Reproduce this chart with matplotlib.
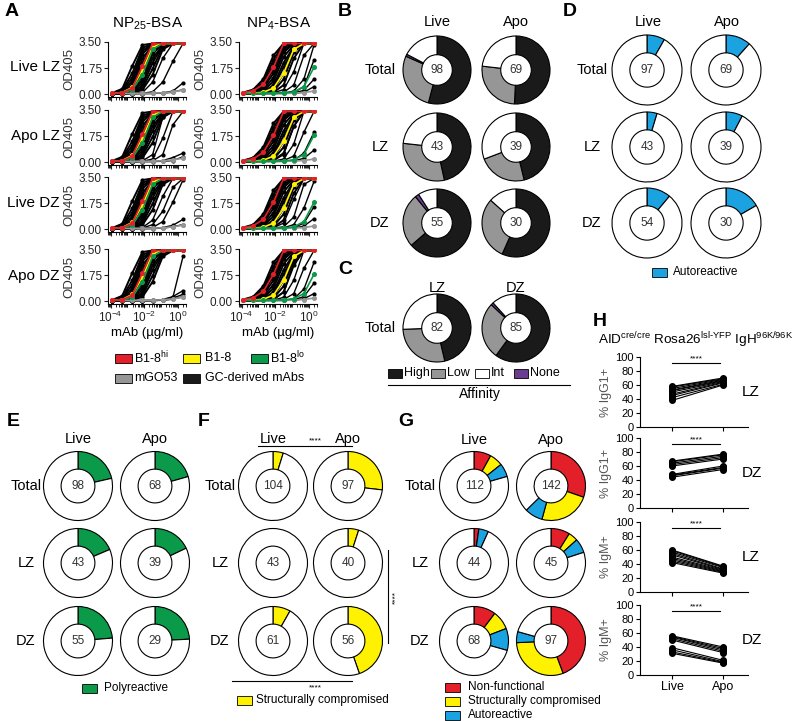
import matplotlib
matplotlib.use("Agg")
import matplotlib.pyplot as plt
import matplotlib.ticker as mticker
import numpy as np
from matplotlib.patches import Rectangle

# ── Style ──────────────────────────────────────────────────────────────────────
plt.rcParams.update({
    "font.family": "Liberation Sans",
    "mathtext.fontset": "custom",
    "mathtext.rm": "Liberation Sans",
    "mathtext.it": "Liberation Sans:italic",
    "mathtext.bf": "Liberation Sans:bold",
    "axes.linewidth": 0.8,
    "xtick.major.width": 0.8,
    "ytick.major.width": 0.8,
    "xtick.major.size": 3,
    "ytick.major.size": 3,
    "xtick.minor.size": 1.8,
})

W, H = 800, 721
RED, YELLOW, GREEN, BLUE = "#e3202a", "#fff200", "#0b9a4a", "#1aa3e0"
BLACK, GRAY, PURPLE = "#1a1a1a", "#969696", "#6a3d8f"

# ── Panel A data: OD405 at each mAb dilution (µg/ml) ───────────────────────────
CONC = [1.22e-4, 4.88e-4, 1.95e-3, 7.81e-3, 3.125e-2, 0.125, 0.5, 2.0]

NP25_RED = [0.05, 0.09, 0.4, 1.9, 3.4, 3.4, 3.4, 3.4]
NP25_YELLOW = [0.05, 0.1, 0.45, 1.6, 3.2, 3.4, 3.4, 3.4]
NP25_GREEN = [0.05, 0.07, 0.28, 1.3, 3.0, 3.4, 3.4, 3.4]
NP25_GRAY = [0.05, 0.05, 0.05, 0.05, 0.06, 0.08, 0.15, 0.25]

NP4_RED = [0.1, 0.22, 0.65, 1.8, 3.4, 3.4, 3.4, 3.4]
NP4_YELLOW = [0.05, 0.06, 0.12, 0.4, 1.4, 3.0, 3.4, 3.4]
NP4_GREEN = [0.05, 0.05, 0.05, 0.05, 0.06, 0.15, 0.5, 1.8]
NP4_GRAY = [0.05, 0.05, 0.05, 0.05, 0.05, 0.06, 0.1, 0.2]

NP25_MASS = [
    [0.07, 0.35, 1.9, 3.3, 3.4, 3.4, 3.4, 3.4],
    [0.06, 0.25, 1.4, 3.1, 3.4, 3.4, 3.4, 3.4],
    [0.05, 0.2, 1.1, 2.9, 3.4, 3.4, 3.4, 3.4],
    [0.05, 0.15, 0.85, 2.7, 3.4, 3.4, 3.4, 3.4],
    [0.05, 0.12, 0.65, 2.4, 3.3, 3.4, 3.4, 3.4],
    [0.04, 0.1, 0.5, 2.1, 3.3, 3.4, 3.4, 3.4],
    [0.04, 0.08, 0.4, 1.8, 3.2, 3.4, 3.4, 3.4],
    [0.04, 0.07, 0.32, 1.5, 3.1, 3.4, 3.4, 3.4],
    [0.03, 0.06, 0.25, 1.2, 2.9, 3.4, 3.4, 3.4],
    [0.03, 0.05, 0.2, 0.95, 2.7, 3.4, 3.4, 3.4],
    [0.03, 0.05, 0.15, 0.75, 2.4, 3.3, 3.4, 3.4],
    [0.03, 0.04, 0.12, 0.55, 2.1, 3.3, 3.4, 3.4],
    [0.03, 0.04, 0.09, 0.4, 1.7, 3.2, 3.4, 3.4],
    [0.03, 0.04, 0.07, 0.28, 1.3, 3.0, 3.4, 3.4],
]
NP25_EXTRA = [
    [  # Live LZ
        [0.03, 0.03, 0.04, 0.1, 0.8, 2.4, 3.4, 3.4],
        [0.03, 0.03, 0.03, 0.05, 0.15, 0.8, 2.2, 3.4],
        [0.03, 0.03, 0.03, 0.03, 0.04, 0.08, 0.2, 0.75],
        [0.03, 0.03, 0.03, 0.03, 0.04, 0.06, 0.12, 0.3],
    ],
    [  # Apo LZ
        [0.03, 0.03, 0.04, 0.08, 0.5, 3.0, 3.4, 3.4],
        [0.03, 0.03, 0.03, 0.05, 0.2, 1.6, 3.4, 3.4],
        [0.03, 0.03, 0.03, 0.04, 0.08, 0.5, 2.5, 3.4],
        [0.03, 0.03, 0.03, 0.03, 0.04, 0.1, 0.3, 0.6],
        [0.03, 0.03, 0.03, 0.03, 0.03, 0.05, 0.1, 0.35],
    ],
    [  # Live DZ
        [0.03, 0.03, 0.04, 0.1, 0.6, 2.2, 3.4, 3.4],
        [0.03, 0.03, 0.03, 0.06, 0.3, 1.2, 2.8, 3.4],
        [0.03, 0.03, 0.03, 0.04, 0.1, 0.5, 1.8, 3.3],
        [0.03, 0.03, 0.03, 0.03, 0.04, 0.1, 0.25, 0.65],
        [0.03, 0.03, 0.03, 0.03, 0.03, 0.06, 0.15, 0.3],
    ],
    [  # Apo DZ
        [0.03, 0.03, 0.03, 0.03, 0.04, 0.08, 0.25, 3.0],
        [0.03, 0.03, 0.03, 0.03, 0.04, 0.1, 0.3, 0.7],
        [0.03, 0.03, 0.03, 0.03, 0.03, 0.06, 0.2, 0.45],
        [0.03, 0.03, 0.03, 0.03, 0.03, 0.05, 0.12, 0.3],
    ],
]

NP4_MASS = [
    [0.1, 0.3, 1.0, 2.6, 3.4, 3.4, 3.4, 3.4],
    [0.08, 0.25, 0.8, 2.3, 3.4, 3.4, 3.4, 3.4],
    [0.07, 0.2, 0.65, 2.0, 3.3, 3.4, 3.4, 3.4],
    [0.06, 0.15, 0.5, 1.7, 3.2, 3.4, 3.4, 3.4],
    [0.05, 0.12, 0.4, 1.4, 3.0, 3.4, 3.4, 3.4],
    [0.05, 0.1, 0.3, 1.1, 2.8, 3.4, 3.4, 3.4],
    [0.05, 0.08, 0.22, 0.85, 2.5, 3.3, 3.4, 3.4],
    [0.04, 0.07, 0.15, 0.6, 2.1, 3.2, 3.4, 3.4],
    [0.04, 0.06, 0.12, 0.45, 1.8, 3.1, 3.4, 3.4],
    [0.04, 0.05, 0.1, 0.3, 1.4, 3.0, 3.4, 3.4],
    [0.04, 0.05, 0.08, 0.2, 1.0, 2.8, 3.4, 3.4],
    [0.04, 0.05, 0.06, 0.12, 0.6, 2.4, 3.4, 3.4],
]
NP4_EXTRA = [
    [
        [0.04, 0.04, 0.05, 0.08, 0.3, 1.5, 3.4, 3.4],
        [0.04, 0.04, 0.04, 0.05, 0.12, 0.6, 2.6, 3.4],
        [0.04, 0.04, 0.04, 0.04, 0.06, 0.2, 1.0, 3.3],
        [0.04, 0.04, 0.04, 0.04, 0.05, 0.1, 0.5, 2.3],
        [0.04, 0.04, 0.04, 0.04, 0.04, 0.07, 0.25, 1.0],
        [0.04, 0.04, 0.04, 0.04, 0.04, 0.05, 0.12, 0.5],
    ],
    [
        [0.04, 0.04, 0.05, 0.1, 0.5, 2.4, 3.4, 3.4],
        [0.04, 0.04, 0.04, 0.06, 0.2, 1.2, 3.4, 3.4],
        [0.04, 0.04, 0.04, 0.05, 0.1, 0.4, 2.0, 3.4],
        [0.04, 0.04, 0.04, 0.04, 0.05, 0.12, 0.6, 2.0],
        [0.04, 0.04, 0.04, 0.04, 0.04, 0.07, 0.25, 0.8],
    ],
    [
        [0.04, 0.04, 0.05, 0.09, 0.4, 2.0, 3.4, 3.4],
        [0.04, 0.04, 0.04, 0.06, 0.15, 0.8, 3.0, 3.4],
        [0.04, 0.04, 0.04, 0.04, 0.08, 0.3, 1.4, 3.2],
        [0.04, 0.04, 0.04, 0.04, 0.05, 0.1, 0.4, 1.5],
        [0.04, 0.04, 0.04, 0.04, 0.04, 0.06, 0.2, 0.7],
    ],
    [
        [0.04, 0.04, 0.05, 0.1, 0.6, 2.6, 3.4, 3.4],
        [0.04, 0.04, 0.04, 0.06, 0.25, 1.4, 3.4, 3.4],
        [0.04, 0.04, 0.04, 0.05, 0.1, 0.5, 2.2, 3.4],
        [0.04, 0.04, 0.04, 0.04, 0.06, 0.15, 0.8, 2.6],
        [0.04, 0.04, 0.04, 0.04, 0.04, 0.08, 0.3, 1.2],
        [0.04, 0.04, 0.04, 0.04, 0.04, 0.05, 0.15, 0.5],
    ],
]
A_ROWS = ["Live LZ", "Apo LZ", "Live DZ", "Apo DZ"]

# ── Panels B/C: affinity counts [High, Low, None, Int] (rows Total, LZ, DZ) ───
AFF_COLORS = [BLACK, GRAY, PURPLE, "white"]
B_LIVE = [[53, 27, 1, 17], [20, 13, 0, 10], [35, 14, 1, 5]]
B_APO = [[35, 18, 0, 16], [18, 9, 0, 12], [17, 9, 0, 4]]
C_LZ = [38, 23, 0, 21]
C_DZ = [51, 23, 1, 10]

# ── Panels D/E/F: total mAbs and positive mAbs (rows Total, LZ, DZ) ──────────
D_LIVE_N, D_LIVE_POS = [97, 43, 54], [8, 2, 6]
D_APO_N, D_APO_POS = [69, 39, 30], [8, 3, 5]
E_LIVE_N, E_LIVE_POS = [98, 43, 55], [21, 8, 13]
E_APO_N, E_APO_POS = [68, 39, 29], [14, 7, 7]
F_LIVE_N, F_LIVE_POS = [104, 43, 61], [5, 0, 5]
F_APO_N, F_APO_POS = [97, 40, 56], [26, 2, 25]

# ── Panel G: non-functional / structurally compromised / autoreactive ────────
G_LIVE_N = [112, 44, 68]
G_LIVE_NONFUNC, G_LIVE_STRUCT, G_LIVE_AUTO = [9, 1, 7], [7, 0, 6], [7, 2, 7]
G_APO_N = [142, 45, 97]
G_APO_NONFUNC, G_APO_STRUCT, G_APO_AUTO = [43, 4, 43], [34, 2, 29], [12, 3, 5]

# ── Panel H: paired % per mouse ─────────────────────────────────────────────
H_YLABELS = ["% IgG1+", "% IgG1+", "% IgM+", "% IgM+"]
H_ZONES = ["LZ", "DZ", "LZ", "DZ"]
H_LIVE = [
    [38, 42, 45, 47, 50, 52, 53, 55, 57, 58],
    [44, 46, 47, 48, 60, 62, 64, 66, 67],
    [42, 44, 46, 48, 50, 53, 55, 57, 59, 60],
    [31, 33, 36, 39, 50, 52, 54, 55, 56],
]
H_APO = [
    [60, 61, 63, 64, 65, 66, 67, 68, 69, 70],
    [55, 57, 58, 60, 70, 72, 74, 76, 77],
    [27, 28, 29, 30, 31, 32, 33, 35, 36, 37],
    [17, 18, 19, 21, 32, 34, 36, 38, 40],
]

fig = plt.figure(figsize=(8, 7.21), dpi=100)


def px_axes(x0, y0, w, h, **kw):
    return fig.add_axes([x0 / W, 1 - (y0 + h) / H, w / W, h / H], **kw)


ov = px_axes(0, 0, W, H, zorder=10)
ov.set_xlim(0, W)
ov.set_ylim(H, 0)
ov.axis("off")
ov.patch.set_visible(False)


def txt(x, y, s, size=10.5, **kw):
    kw.setdefault("ha", "center")
    kw.setdefault("va", "center")
    ov.text(x, y, s, fontsize=size, **kw)


def box(x, y, color, w=15, h=9):
    ov.add_patch(Rectangle((x, y - h / 2), w, h, facecolor=color,
                           edgecolor="black", lw=0.6))


def donut(cx, cy, r, values, colors, hole):
    pad = 1.06
    ax = px_axes(cx - r * pad, cy - r * pad, 2 * r * pad, 2 * r * pad)
    keep = [(v, c) for v, c in zip(values, colors) if v > 0]
    ax.pie([v for v, _ in keep], colors=[c for _, c in keep], startangle=90,
           counterclock=False, radius=1,
           wedgeprops=dict(width=1 - hole, edgecolor="black", linewidth=0.8))
    ax.text(0, 0, str(sum(values)), ha="center", va="center", fontsize=8.5,
            color="#333333")
    ax.set_xlim(-pad, pad)
    ax.set_ylim(-pad, pad)
    ax.set_aspect("equal")
    ax.axis("off")


# ── A ────────────────────────────────────────────────────────────────────────
A_TOPS = [42, 110, 177, 249]
cols = [(108, NP25_MASS, NP25_EXTRA, [NP25_GRAY, NP25_YELLOW, NP25_GREEN, NP25_RED]),
        (239, NP4_MASS, NP4_EXTRA, [NP4_GRAY, NP4_YELLOW, NP4_GREEN, NP4_RED])]
for x0, mass, extra, ctrls in cols:
    for i, top in enumerate(A_TOPS):
        ax = px_axes(x0, top, 78, 55)
        for ys in mass:
            ax.plot(CONC, ys, color="black", lw=1.4, marker="o", ms=2)
        for ys in extra[i]:
            ax.plot(CONC, ys, color="black", lw=1.0, marker="o", ms=2)
        for ys, c in zip(ctrls, [GRAY, YELLOW, GREEN, RED]):
            ax.plot(CONC, ys, color=c, lw=1.2, marker="o", ms=2.6)
        ax.set_xscale("log")
        ax.set_xlim(7e-5, 3)
        ax.set_ylim(-0.2, 3.5)
        ax.set_yticks([0, 1.75, 3.5])
        ax.yaxis.set_major_formatter(mticker.FormatStrFormatter("%.2f"))
        ax.xaxis.set_major_locator(mticker.FixedLocator([1e-4, 1e-2, 1]))
        ax.xaxis.set_minor_locator(mticker.LogLocator(base=10, subs="all", numticks=20))
        ax.xaxis.set_minor_formatter(mticker.NullFormatter())
        ax.tick_params(labelsize=8.5, colors="#222222", pad=1.5)
        ax.set_ylabel("OD405", fontsize=9.5, color="#333333", labelpad=2)
        for s in ("top", "right"):
            ax.spines[s].set_visible(False)
        if i < 3:
            ax.set_xticklabels([])
        else:
            ax.set_xlabel("mAb (µg/ml)", fontsize=9.5, labelpad=1)

txt(5, 12, "A", size=14, weight="bold", ha="left")
txt(148, 24, "NP$_{25}$-BSA", size=11)
txt(279, 24, "NP$_4$-BSA", size=11)
for lab, y in zip(A_ROWS, [67, 136, 203, 276]):
    txt(60, y, lab, size=11, ha="right")

box(115, 358, RED, w=17)
txt(134, 358, "B1-8$^{\\mathrm{hi}}$", size=9, ha="left")
box(183, 358, YELLOW, w=17)
txt(205, 358, "B1-8", size=9, ha="left")
box(251, 358, GREEN, w=17)
txt(270, 358, "B1-8$^{\\mathrm{lo}}$", size=9, ha="left")
box(115, 378, GRAY, w=17)
txt(134, 378, "mGO53", size=9, ha="left")
box(183, 378, BLACK, w=17)
txt(205, 378, "GC-derived mAbs", size=9, ha="left")

# ── B / C ──────────────────────────────────────────────────────────────────────
ROWS3 = ["Total", "LZ", "DZ"]
ROW_Y = [70, 147, 223]
txt(338, 12, "B", size=14, weight="bold", ha="left")
txt(437, 22, "Live")
txt(516, 22, "Apo")
for j, y in enumerate(ROW_Y):
    txt(380, y, ROWS3[j], size=10.5)
    donut(437, y, 34, B_LIVE[j], AFF_COLORS, 0.45)
    donut(516, y, 34, B_APO[j], AFF_COLORS, 0.45)

txt(338, 270, "C", size=14, weight="bold", ha="left")
txt(437, 288, "LZ")
txt(516, 288, "DZ")
txt(380, 328, "Total", size=10.5)
donut(437, 328, 34, C_LZ, AFF_COLORS, 0.45)
donut(516, 328, 34, C_DZ, AFF_COLORS, 0.45)

for x, c, lab in [(388, BLACK, "High"), (431, GRAY, "Low"),
                  (475, "white", "Int"), (514, PURPLE, "None")]:
    box(x, 373, c, w=14)
    txt(x + 16, 373, lab, size=9, ha="left")
ov.plot([388, 570], [385, 385], color="black", lw=0.8)
txt(480, 394, "Affinity", size=10)

# ── D ────────────────────────────────────────────────────────────────────────
txt(563, 12, "D", size=14, weight="bold", ha="left")
txt(648, 22, "Live")
txt(727, 22, "Apo")
for j, y in enumerate(ROW_Y):
    txt(592, y, ROWS3[j], size=10.5)
    donut(647, y, 35, [D_LIVE_POS[j], D_LIVE_N[j] - D_LIVE_POS[j]], [BLUE, "white"], 0.49)
    donut(726, y, 35, [D_APO_POS[j], D_APO_N[j] - D_APO_POS[j]], [BLUE, "white"], 0.49)
box(652, 272, BLUE)
txt(673, 272, "Autoreactive", size=8.5, ha="left")

# ── E / F / G ────────────────────────────────────────────────────────────────
ROW_Y2 = [486, 563, 641]
panels = [
    ("E", 7, 78, 155, 26, E_LIVE_N, E_LIVE_POS, E_APO_N, E_APO_POS, GREEN),
    ("F", 198, 273, 348, 220, F_LIVE_N, F_LIVE_POS, F_APO_N, F_APO_POS, YELLOW),
]
for letter, lx, cl, ca, rx, ln, lp, an, ap, col in panels:
    txt(lx, 422, letter, size=14, weight="bold", ha="left")
    txt(cl, 439, "Live")
    txt(ca, 439, "Apo")
    for j, y in enumerate(ROW_Y2):
        txt(rx, y, ROWS3[j], size=10.5)
        donut(cl, y, 34.5, [lp[j], ln[j] - lp[j]], [col, "white"], 0.49)
        donut(ca, y, 34.5, [ap[j], an[j] - ap[j]], [col, "white"], 0.49)

box(82, 688, GREEN)
txt(104, 688, "Polyreactive", size=8.5, ha="left")
box(237, 700, YELLOW)
txt(256, 700, "Structurally compromised", size=8.5, ha="left")

# significance marks in F
ov.plot([258, 352], [446, 446], color="black", lw=0.8)
txt(315, 441, "****", size=6)
ov.plot([388, 388], [550, 643], color="black", lw=0.8)
txt(396, 598, "****", size=6, rotation=90)
ov.plot([232, 352], [681, 681], color="black", lw=0.8)
txt(315, 688, "****", size=6)

txt(398, 422, "G", size=14, weight="bold", ha="left")
txt(474, 440, "Live")
txt(551, 440, "Apo")
G_COLORS = [RED, YELLOW, BLUE, "white"]
for j, y in enumerate(ROW_Y2):
    txt(420, y, ROWS3[j], size=10.5)
    lv = [G_LIVE_NONFUNC[j], G_LIVE_STRUCT[j], G_LIVE_AUTO[j]]
    av = [G_APO_NONFUNC[j], G_APO_STRUCT[j], G_APO_AUTO[j]]
    donut(474, y, 34.5, lv + [G_LIVE_N[j] - sum(lv)], G_COLORS, 0.49)
    donut(551, y, 34.5, av + [G_APO_N[j] - sum(av)], G_COLORS, 0.49)
for y, c, lab in [(687, RED, "Non-functional"), (701, YELLOW, "Structurally compromised"),
                  (715, BLUE, "Autoreactive")]:
    box(445, y, c)
    txt(468, y, lab, size=8.5, ha="left")

# ── H ────────────────────────────────────────────────────────────────────────
txt(593, 322, "H", size=14, weight="bold", ha="left")
txt(598, 340, "AID$^{\\mathrm{cre/cre}}$ Rosa26$^{\\mathrm{lsl‐YFP}}$ IgH$^{\\mathrm{96K/96K}}$",
    size=9.7, ha="left")
H_TOPS = [357, 438, 522, 605]
for i, top in enumerate(H_TOPS):
    ax = px_axes(640, top, 108, 70)
    for a, b in zip(H_LIVE[i], H_APO[i]):
        ax.plot([0, 1], [a, b], color="black", lw=0.8, marker="o", ms=4)
    ax.plot([0, 0.95], [91, 91], color="black", lw=0.8)
    ax.text(0.48, 93, "****", ha="center", va="bottom", fontsize=6)
    ax.set_xlim(-0.63, 1.49)
    ax.set_ylim(0, 100)
    ax.set_yticks(range(0, 101, 20))
    ax.set_xticks([0, 1])
    ax.set_xticklabels(["Live", "Apo"] if i == 3 else [])
    ax.tick_params(labelsize=8, pad=1.5)
    ax.tick_params(axis="x", labelsize=9)
    ax.set_ylabel(H_YLABELS[i], fontsize=9, color="#555555", labelpad=2)
    for s in ("top", "right"):
        ax.spines[s].set_visible(False)
    txt(742, top + 35, H_ZONES[i], size=11, ha="left")

fig.savefig("out.png", dpi=100)
